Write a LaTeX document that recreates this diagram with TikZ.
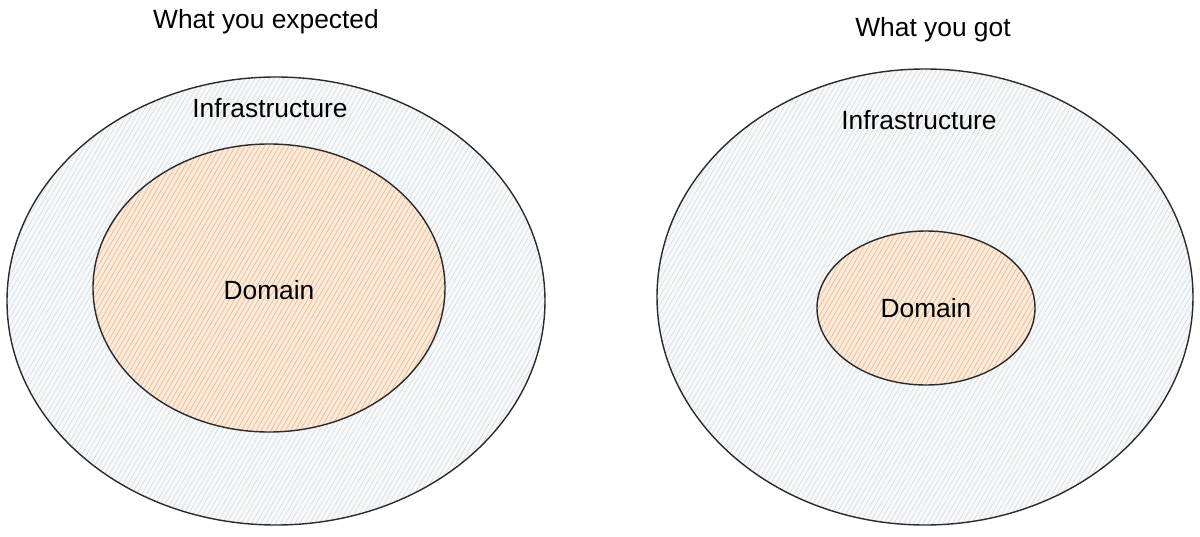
\documentclass[tikz,border=0pt]{standalone}
\usepackage{fontspec}
\setmainfont{Liberation Sans}
\usetikzlibrary{patterns.meta}
\definecolor{outerfill}{HTML}{F7F8FA}
\definecolor{outerhatch}{HTML}{D3DBE3}
\definecolor{innerfill}{HTML}{FCEBDC}
\definecolor{innerhatch}{HTML}{F0BE94}
\definecolor{stroke}{HTML}{2B2B2B}
\tikzset{
  outerring/.style={fill=outerfill,
    postaction={pattern={Lines[angle=60,distance=2.4pt,line width=0.35pt]}, pattern color=outerhatch},
    postaction={draw=stroke, line width=0.8pt}},
  innerring/.style={fill=innerfill,
    postaction={pattern={Lines[angle=60,distance=2.4pt,line width=0.45pt]}, pattern color=innerhatch},
    postaction={draw=stroke, line width=0.8pt}},
  lbl/.style={font=\fontsize{15}{18}\selectfont, text=black, inner sep=0pt}
}
\begin{document}
\begin{tikzpicture}[x=0.02cm,y=-0.02cm]
\useasboundingbox (0,0) rectangle (1200,537);
% left
\path[outerring] (276,301) ellipse [x radius=269, y radius=224];
\path[innerring] (269,288) ellipse [x radius=176, y radius=144];
\node[lbl] (t1) at (266,22) {What you expected};
\node[lbl] (i1) at (270,108) {Infrastructure};
\node[lbl] (d1) at (269,290) {Domain};
% right
\path[outerring] (925,297) ellipse [x radius=268, y radius=228];
\path[innerring] (926,308) ellipse [x radius=109, y radius=77];
\node[lbl] (t2) at (933,30) {What you got};
\node[lbl] (i2) at (919,120) {Infrastructure};
\node[lbl] (d2) at (926,308) {Domain};
\end{tikzpicture}
\end{document}
